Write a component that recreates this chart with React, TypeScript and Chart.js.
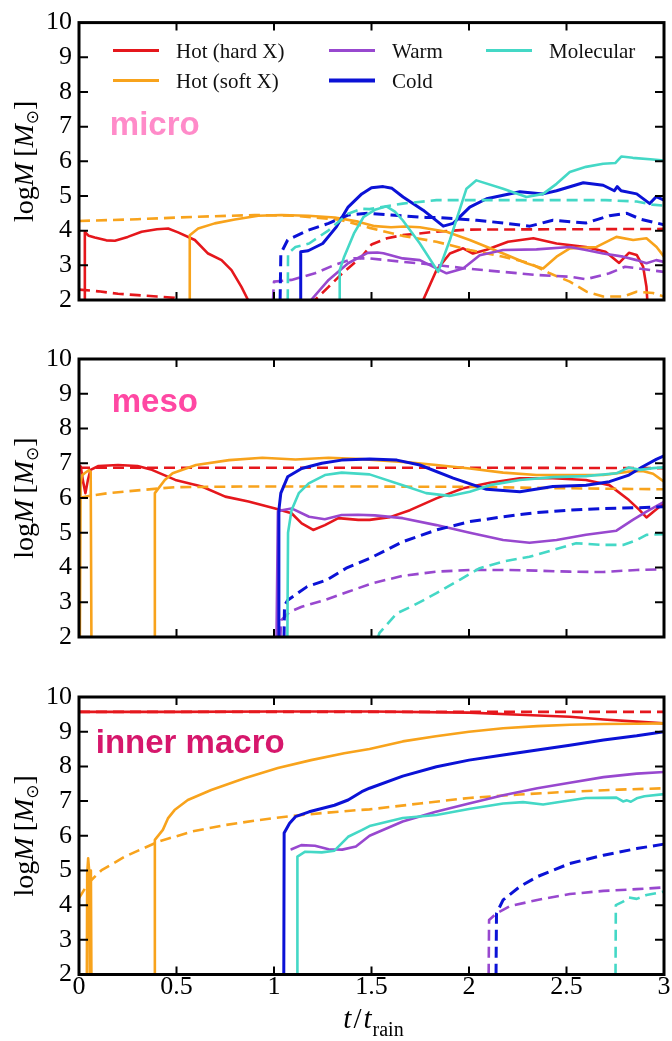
import React, { useEffect, useRef } from 'react';
import { Chart, registerables } from 'chart.js';

Chart.register(...registerables);

type Pt = [number, number | null];

// ---------- axes ----------
const xTickValues = [0, 0.5, 1, 1.5, 2, 2.5, 3];
const yTickValues = [2, 3, 4, 5, 6, 7, 8, 9, 10];

// ---------- categories ----------
const categories = ['Hot (hard X)', 'Hot (soft X)', 'Warm', 'Cold', 'Molecular'];
const catColors = ['#e5171c', '#f8a31c', '#9848cf', '#0b12d6', '#44d8c6'];

// ---------- panel 1: micro ----------
const microHardSolid: Pt[] = [[0.028, 1.5], [0.03, 3.96], [0.05, 3.85], [0.081, 3.8], [0.14, 3.72], [0.184, 3.71], [0.25, 3.82], [0.321, 3.97], [0.4, 4.04], [0.457, 4.06], [0.508, 3.95], [0.594, 3.73], [0.662, 3.34], [0.731, 3.15], [0.782, 2.86], [0.833, 2.38], [0.867, 2.0], [0.88, 1.5], [0.9, null], [1.76, 1.5], [1.765, 2.0], [1.833, 2.86], [1.902, 3.34], [1.97, 3.49], [2.02, 3.34], [2.09, 3.45], [2.2, 3.68], [2.33, 3.78], [2.449, 3.63], [2.6, 3.53], [2.7, 3.39], [2.77, 3.07], [2.82, 3.36], [2.86, 3.3], [2.893, 2.96], [2.91, 2.38], [2.92, 1.5]];
const microHardDashed: Pt[] = [[0, 2.3], [0.1, 2.25], [0.2, 2.18], [0.3, 2.14], [0.4, 2.1], [0.49, 2.06], [0.56, 1.9], [0.6, null], [1.2, 1.8], [1.21, 2.0], [1.28, 2.38], [1.35, 2.77], [1.45, 3.25], [1.5, 3.6], [1.58, 3.78], [1.66, 3.87], [1.833, 3.97], [2.0, 4.03], [2.5, 4.04], [3.0, 4.05]];
const microSoftSolid: Pt[] = [[0.565, 1.5], [0.568, 3.87], [0.611, 4.06], [0.696, 4.21], [0.799, 4.32], [0.919, 4.43], [1.038, 4.45], [1.175, 4.43], [1.312, 4.38], [1.431, 4.26], [1.517, 4.13], [1.6, 4.1], [1.67, 4.12], [1.748, 4.1], [1.885, 3.97], [2.004, 3.73], [2.175, 3.34], [2.295, 3.06], [2.38, 2.91], [2.449, 3.25], [2.517, 3.49], [2.654, 3.53], [2.756, 3.82], [2.842, 3.73], [2.91, 3.78], [2.962, 3.53], [3.0, 3.25]];
const microSoftDashed: Pt[] = [[0, 4.28], [0.3, 4.33], [0.6, 4.4], [0.9, 4.45], [1.1, 4.43], [1.342, 4.31], [1.491, 4.08], [1.66, 3.85], [1.833, 3.68], [2.004, 3.44], [2.175, 3.25], [2.312, 3.06], [2.414, 2.77], [2.517, 2.53], [2.603, 2.24], [2.688, 2.1], [2.791, 2.1], [2.859, 2.24], [2.944, 2.2], [3.0, 2.1]];
const microWarmSolid: Pt[] = [[1.18, 1.5], [1.19, 2.0], [1.28, 2.58], [1.38, 3.06], [1.48, 3.36], [1.53, 3.37], [1.561, 3.35], [1.66, 3.2], [1.748, 3.15], [1.833, 2.91], [1.885, 2.77], [1.97, 2.91], [2.055, 3.29], [2.175, 3.44], [2.346, 3.46], [2.517, 3.53], [2.6, 3.44], [2.688, 3.34], [2.79, 3.25], [2.86, 3.15], [2.91, 3.06], [2.96, 3.15], [3.0, 3.1]];
const microWarmDashed: Pt[] = [[0.99, 1.5], [1.0, 2.53], [1.09, 2.58], [1.21, 2.77], [1.31, 3.01], [1.41, 3.2], [1.49, 3.2], [1.66, 3.1], [1.833, 3.01], [2.0, 2.9], [2.175, 2.81], [2.35, 2.72], [2.517, 2.67], [2.6, 2.6], [2.72, 2.77], [2.8, 2.96], [2.88, 2.9], [3.0, 2.81]];
const microColdSolid: Pt[] = [[1.135, 1.5], [1.137, 3.39], [1.175, 3.42], [1.25, 3.63], [1.32, 4.11], [1.38, 4.68], [1.45, 5.06], [1.5, 5.24], [1.56, 5.27], [1.605, 5.22], [1.662, 4.97], [1.765, 4.59], [1.868, 4.13], [1.919, 4.21], [2.004, 4.68], [2.09, 4.92], [2.261, 5.12], [2.38, 5.06], [2.449, 5.15], [2.586, 5.38], [2.688, 5.31], [2.745, 5.15], [2.76, 5.27], [2.78, 5.15], [2.86, 5.06], [2.927, 4.78], [2.96, 4.98], [3.0, 4.88]];
const microColdDashed: Pt[] = [[1.03, 1.5], [1.035, 3.34], [1.07, 3.73], [1.175, 4.01], [1.28, 4.21], [1.38, 4.45], [1.48, 4.5], [1.6, 4.45], [1.78, 4.38], [1.833, 4.38], [2.04, 4.3], [2.175, 4.22], [2.312, 4.13], [2.43, 4.3], [2.6, 4.22], [2.72, 4.43], [2.81, 4.5], [2.88, 4.33], [3.0, 4.17]];
const microMolSolid: Pt[] = [[1.335, 1.5], [1.337, 2.86], [1.36, 3.25], [1.41, 3.92], [1.46, 4.4], [1.517, 4.6], [1.577, 4.7], [1.62, 4.55], [1.66, 4.3], [1.748, 3.63], [1.842, 2.81], [1.902, 3.73], [1.987, 5.21], [2.038, 5.45], [2.175, 5.21], [2.295, 4.97], [2.38, 5.06], [2.449, 5.35], [2.517, 5.69], [2.6, 5.84], [2.688, 5.93], [2.75, 5.95], [2.782, 6.14], [2.84, 6.1], [2.944, 6.05], [3.0, 6.02]];
const microMolDashed: Pt[] = [[1.07, 1.5], [1.072, 3.34], [1.11, 3.53], [1.18, 3.63], [1.28, 4.01], [1.38, 4.49], [1.45, 4.63], [1.49, 4.62], [1.66, 4.78], [1.833, 4.88], [2.0, 4.88], [2.4, 4.88], [2.7, 4.88], [2.86, 4.84], [2.94, 4.75], [3.0, 4.72]];

// ---------- panel 2: meso ----------
const mesoHardSolid: Pt[] = [[0, 6.95], [0.009, 6.9], [0.02, 6.5], [0.033, 6.14], [0.045, 6.5], [0.059, 6.81], [0.1, 6.92], [0.2, 6.95], [0.3, 6.92], [0.374, 6.81], [0.494, 6.52], [0.63, 6.33], [0.75, 6.04], [0.869, 5.9], [1.006, 5.7], [1.09, 5.56], [1.142, 5.27], [1.201, 5.08], [1.261, 5.22], [1.33, 5.42], [1.432, 5.37], [1.49, 5.37], [1.594, 5.45], [1.697, 5.65], [1.833, 5.99], [1.97, 6.28], [2.107, 6.44], [2.261, 6.57], [2.43, 6.57], [2.6, 6.52], [2.72, 6.37], [2.82, 5.94], [2.875, 5.65], [2.91, 5.44], [2.944, 5.6], [3.0, 5.85]];
const mesoHardDashed: Pt[] = [[0, 6.87], [1.0, 6.87], [2.0, 6.87], [3.0, 6.86]];
const mesoSoftSolid: Pt[] = [[0.004, 1.5], [0.008, 6.4], [0.015, 6.65], [0.03, 6.72], [0.05, 6.8], [0.06, 6.75], [0.064, 1.5], [0.2, null], [0.385, 1.5], [0.389, 6.14], [0.44, 6.52], [0.48, 6.71], [0.6, 6.95], [0.77, 7.09], [0.94, 7.16], [1.11, 7.11], [1.28, 7.16], [1.45, 7.12], [1.66, 7.04], [1.833, 6.95], [2.004, 6.85], [2.175, 6.73], [2.346, 6.66], [2.517, 6.66], [2.688, 6.66], [2.82, 6.76], [2.89, 6.78], [2.944, 6.7], [3.0, 6.47]];
const mesoSoftDashed: Pt[] = [[0, 6.0], [0.05, 6.06], [0.15, 6.14], [0.32, 6.23], [0.49, 6.31], [0.83, 6.33], [1.5, 6.33], [2.0, 6.32], [2.5, 6.28], [3.0, 6.25]];
const mesoWarmSolid: Pt[] = [[1.012, 1.5], [1.02, 5.61], [1.04, 5.65], [1.09, 5.7], [1.18, 5.46], [1.26, 5.39], [1.347, 5.51], [1.43, 5.52], [1.517, 5.5], [1.66, 5.42], [1.833, 5.22], [2.004, 5.0], [2.175, 4.79], [2.31, 4.71], [2.449, 4.79], [2.6, 4.94], [2.756, 5.06], [2.84, 5.37], [2.91, 5.61], [3.0, 5.89]];
const mesoWarmDashed: Pt[] = [[1.03, 1.5], [1.036, 2.48], [1.08, 2.72], [1.142, 2.87], [1.26, 3.06], [1.38, 3.3], [1.5, 3.54], [1.66, 3.76], [1.833, 3.88], [2.004, 3.93], [2.175, 3.93], [2.346, 3.91], [2.517, 3.88], [2.688, 3.87], [2.86, 3.93], [3.0, 3.95]];
const mesoColdSolid: Pt[] = [[1.022, 1.5], [1.025, 5.65], [1.035, 6.14], [1.07, 6.61], [1.142, 6.85], [1.245, 7.0], [1.347, 7.09], [1.49, 7.12], [1.63, 7.09], [1.748, 6.95], [1.919, 6.57], [2.09, 6.25], [2.261, 6.18], [2.43, 6.33], [2.6, 6.37], [2.72, 6.47], [2.82, 6.66], [2.89, 6.9], [2.96, 7.11], [3.0, 7.21]];
const mesoColdDashed: Pt[] = [[1.05, 1.5], [1.054, 2.91], [1.07, 3.06], [1.17, 3.45], [1.27, 3.64], [1.37, 3.98], [1.49, 4.26], [1.66, 4.74], [1.833, 5.08], [2.004, 5.32], [2.175, 5.46], [2.346, 5.58], [2.517, 5.65], [2.688, 5.7], [2.86, 5.72], [3.0, 5.75]];
const mesoMolSolid: Pt[] = [[1.068, 1.5], [1.072, 5.0], [1.09, 5.65], [1.127, 6.14], [1.178, 6.42], [1.261, 6.66], [1.347, 6.73], [1.49, 6.68], [1.66, 6.37], [1.78, 6.14], [1.9, 6.06], [2.004, 6.18], [2.107, 6.37], [2.261, 6.52], [2.43, 6.6], [2.6, 6.63], [2.756, 6.71], [2.82, 6.88], [2.876, 6.81], [2.944, 6.86], [3.0, 6.88]];
const mesoMolDashed: Pt[] = [[1.51, 1.5], [1.54, 2.11], [1.63, 2.68], [1.72, 2.92], [1.833, 3.26], [1.95, 3.64], [2.055, 3.98], [2.175, 4.17], [2.31, 4.31], [2.43, 4.5], [2.55, 4.7], [2.688, 4.65], [2.79, 4.65], [2.86, 4.79], [2.91, 4.94], [3.0, 4.96]];

// ---------- panel 3: inner macro ----------
const macroHardSolid: Pt[] = [[0, 9.57], [0.5, 9.57], [1.0, 9.58], [1.5, 9.58], [2.0, 9.55], [2.26, 9.49], [2.517, 9.43], [2.69, 9.35], [2.86, 9.29], [3.0, 9.24]];
const macroHardDashed: Pt[] = [[0, 9.57], [1.5, 9.57], [3.0, 9.57]];
const macroSoftSolid: Pt[] = [[0.04, 1.5], [0.042, 4.9], [0.047, 5.35], [0.052, 5.0], [0.056, 1.5], [0.058, 4.8], [0.061, 5.0], [0.064, 1.5], [0.2, null], [0.385, 1.5], [0.389, 5.88], [0.43, 6.17], [0.456, 6.5], [0.49, 6.74], [0.558, 7.03], [0.678, 7.32], [0.849, 7.66], [1.02, 7.95], [1.19, 8.18], [1.36, 8.38], [1.49, 8.5], [1.66, 8.72], [1.83, 8.87], [2.0, 9.0], [2.175, 9.1], [2.35, 9.16], [2.517, 9.2], [2.69, 9.22], [2.86, 9.23], [3.0, 9.24]];
const macroSoftDashed: Pt[] = [[0, 4.2], [0.047, 4.63], [0.116, 5.01], [0.236, 5.4], [0.407, 5.83], [0.578, 6.12], [0.75, 6.31], [0.92, 6.45], [1.09, 6.57], [1.26, 6.66], [1.43, 6.74], [1.49, 6.76], [1.748, 6.93], [2.0, 7.09], [2.26, 7.19], [2.517, 7.27], [2.77, 7.33], [3.0, 7.37]];
const macroWarmSolid: Pt[] = [[1.085, 5.6], [1.09, 5.61], [1.14, 5.73], [1.21, 5.71], [1.28, 5.61], [1.35, 5.6], [1.42, 5.69], [1.49, 6.0], [1.66, 6.41], [1.83, 6.69], [2.0, 6.93], [2.175, 7.17], [2.35, 7.37], [2.517, 7.53], [2.69, 7.69], [2.86, 7.79], [3.0, 7.84]];
const macroWarmDashed: Pt[] = [[2.1, 1.5], [2.103, 3.57], [2.14, 3.76], [2.21, 3.97], [2.35, 4.15], [2.517, 4.32], [2.69, 4.41], [2.86, 4.46], [3.0, 4.51]];
const macroColdSolid: Pt[] = [[1.05, 1.5], [1.052, 6.08], [1.08, 6.36], [1.11, 6.55], [1.18, 6.69], [1.31, 6.88], [1.38, 7.03], [1.45, 7.27], [1.49, 7.37], [1.66, 7.72], [1.833, 7.99], [2.0, 8.18], [2.175, 8.33], [2.35, 8.47], [2.517, 8.61], [2.69, 8.76], [2.86, 8.88], [3.0, 9.0]];
const macroColdDashed: Pt[] = [[2.138, 1.5], [2.141, 3.76], [2.175, 4.15], [2.26, 4.53], [2.35, 4.82], [2.517, 5.2], [2.69, 5.44], [2.86, 5.63], [3.0, 5.76]];
const macroMolSolid: Pt[] = [[1.118, 1.5], [1.12, 5.4], [1.16, 5.54], [1.245, 5.52], [1.31, 5.57], [1.38, 5.97], [1.45, 6.16], [1.49, 6.28], [1.66, 6.51], [1.833, 6.6], [2.0, 6.77], [2.175, 6.93], [2.277, 6.97], [2.38, 6.9], [2.48, 6.99], [2.6, 7.09], [2.756, 7.1], [2.79, 6.99], [2.81, 7.02], [2.83, 6.98], [2.86, 7.08], [2.9, 7.14], [3.0, 7.2]];
const macroMolDashed: Pt[] = [[2.751, 1.5], [2.753, 4.0], [2.79, 4.1], [2.82, 4.22], [2.86, 4.18], [2.91, 4.29], [3.0, 4.39]];

// ---------- panel labels ----------
const panelNames = ['micro', 'meso', 'inner macro'];
const panelNameColors = ['#ff8bc9', '#ff48a3', '#d6176c'];
const panelNameAt: [number, number][] = [[0.158, 6.75], [0.168, 8.47], [0.086, 8.38]];

type Series = { cat: number; dashed: boolean; data: Pt[] };
type PanelCfg = {
  idx: number; top: number; height: number; padTop: number; xAxisH: number;
  legend: boolean; xLabels: boolean; series: Series[];
};

const S = (cat: number, dashed: boolean, data: Pt[]): Series => ({ cat, dashed, data });

const panels: PanelCfg[] = [
  {
    idx: 0, top: 0, height: 330, padTop: 22, xAxisH: 30, legend: true, xLabels: false,
    series: [S(0, false, microHardSolid), S(0, true, microHardDashed), S(1, false, microSoftSolid), S(1, true, microSoftDashed),
      S(2, false, microWarmSolid), S(2, true, microWarmDashed), S(3, false, microColdSolid), S(3, true, microColdDashed),
      S(4, false, microMolSolid), S(4, true, microMolDashed)],
  },
  {
    idx: 1, top: 330, height: 335, padTop: 29, xAxisH: 28, legend: false, xLabels: false,
    series: [S(0, false, mesoHardSolid), S(0, true, mesoHardDashed), S(1, false, mesoSoftSolid), S(1, true, mesoSoftDashed),
      S(2, false, mesoWarmSolid), S(2, true, mesoWarmDashed), S(3, false, mesoColdSolid), S(3, true, mesoColdDashed),
      S(4, false, mesoMolSolid), S(4, true, mesoMolDashed)],
  },
  {
    idx: 2, top: 665, height: 376, padTop: 32, xAxisH: 66.5, legend: false, xLabels: true,
    series: [S(0, false, macroHardSolid), S(0, true, macroHardDashed), S(1, false, macroSoftSolid), S(1, true, macroSoftDashed),
      S(2, false, macroWarmSolid), S(2, true, macroWarmDashed), S(3, false, macroColdSolid), S(3, true, macroColdDashed),
      S(4, false, macroMolSolid), S(4, true, macroMolDashed)],
  },
];

const SERIF = '"Liberation Serif", "Times New Roman", serif';
const SANS = '"Liberation Sans", Arial, sans-serif';

type Seg = { t: string; f: string; dy?: number; gap?: number };

function drawSegs(ctx: CanvasRenderingContext2D, segs: Seg[], cx: number) {
  let w = 0;
  for (const s of segs) { ctx.font = s.f; w += ctx.measureText(s.t).width + (s.gap || 0); }
  let x = cx - w / 2;
  for (const s of segs) {
    ctx.font = s.f;
    ctx.fillText(s.t, x, s.dy || 0);
    x += ctx.measureText(s.t).width + (s.gap || 0);
  }
}

function makeDecor(cfg: PanelCfg) {
  return {
    id: 'decor' + cfg.idx,
    afterDraw(chart: any) {
      const { ctx, chartArea: a } = chart;
      const xs = chart.scales.x;
      const ys = chart.scales.y;
      ctx.save();
      // inward tick marks
      ctx.strokeStyle = '#000';
      ctx.lineWidth = 2;
      ctx.beginPath();
      for (const v of xTickValues.slice(1, -1)) {
        const px = xs.getPixelForValue(v);
        ctx.moveTo(px, a.bottom); ctx.lineTo(px, a.bottom - 8);
        ctx.moveTo(px, a.top); ctx.lineTo(px, a.top + 8);
      }
      for (const v of yTickValues.slice(1, -1)) {
        const py = ys.getPixelForValue(v);
        ctx.moveTo(a.left, py); ctx.lineTo(a.left + 9, py);
        ctx.moveTo(a.right, py); ctx.lineTo(a.right - 9, py);
      }
      ctx.stroke();
      // frame
      ctx.lineWidth = 3;
      ctx.strokeRect(a.left, a.top, a.right - a.left, a.bottom - a.top);

      // panel name
      ctx.font = 'bold 33px ' + SANS;
      ctx.fillStyle = panelNameColors[cfg.idx];
      ctx.textAlign = 'left';
      ctx.textBaseline = 'alphabetic';
      const at = panelNameAt[cfg.idx];
      ctx.fillText(panelNames[cfg.idx], xs.getPixelForValue(at[0]), ys.getPixelForValue(at[1]));

      // legend
      if (cfg.legend) {
        const cols = [34, 250, 407];
        const rows = [28, 58];
        const place = [[0, 0], [0, 1], [1, 0], [1, 1], [2, 0]];
        ctx.font = '21px ' + SERIF;
        categories.forEach((name, i) => {
          const [c, r] = place[i];
          const x0 = a.left + cols[c];
          const y0 = a.top + rows[r];
          ctx.strokeStyle = catColors[i];
          ctx.lineWidth = i === 3 ? 4 : 3;
          ctx.beginPath();
          ctx.moveTo(x0, y0); ctx.lineTo(x0 + 46, y0);
          ctx.stroke();
          ctx.fillStyle = '#111';
          ctx.fillText(name, x0 + 63, y0 + 7);
        });
      }

      // y axis title
      ctx.fillStyle = '#000';
      ctx.save();
      ctx.translate(33, (a.top + a.bottom) / 2);
      ctx.rotate(-Math.PI / 2);
      drawSegs(ctx, [
        { t: 'log', f: '28px ' + SERIF },
        { t: 'M', f: 'italic 28px ' + SERIF, gap: 6 },
        { t: '[', f: '28px ' + SERIF },
        { t: 'M', f: 'italic 28px ' + SERIF },
        { t: '⊙', f: '17px "DejaVu Sans", sans-serif', dy: 5 },
        { t: ']', f: '28px ' + SERIF },
      ], 0);
      ctx.restore();

      // x axis title
      if (cfg.xLabels) {
        ctx.save();
        ctx.translate(0, a.bottom + 53.5);
        drawSegs(ctx, [
          { t: 't', f: 'italic 29px ' + SERIF, gap: 2 },
          { t: '/', f: '29px ' + SERIF, gap: 2 },
          { t: 't', f: 'italic 29px ' + SERIF, gap: 1 },
          { t: 'rain', f: '20px ' + SERIF, dy: 8 },
        ], xs.getPixelForValue(1.5) + 2);
        ctx.restore();
      }
      ctx.restore();
    },
  };
}

function Panel({ cfg }: { cfg: PanelCfg }) {
  const ref = useRef<HTMLCanvasElement>(null);
  useEffect(() => {
    const canvas = ref.current;
    if (!canvas) return;
    const n = cfg.series.length;
    const datasets = cfg.series.map((s, i) => ({
      label: categories[s.cat] + (s.dashed ? ' (dashed)' : ''),
      data: s.data.map(([x, y]) => ({ x, y })),
      borderColor: catColors[s.cat],
      backgroundColor: catColors[s.cat],
      borderWidth: s.cat === 3 ? 3 : 2.6,
      borderDash: s.dashed ? [11, 6] : [],
      borderJoinStyle: 'round',
      pointRadius: 0,
      pointHoverRadius: 0,
      fill: false,
      tension: 0,
      spanGaps: false,
      order: n - i,
    }));
    const tickFont = { family: SERIF, size: 26 };
    const chart = new Chart(canvas, {
      type: 'line',
      data: { datasets } as any,
      options: {
        animation: false,
        responsive: false,
        devicePixelRatio: 1,
        layout: { padding: { top: cfg.padTop, right: 8, left: 0, bottom: 0 } },
        plugins: { legend: { display: false }, tooltip: { enabled: false } },
        scales: {
          x: {
            type: 'linear', min: 0, max: 3,
            ticks: {
              stepSize: 0.5, display: cfg.xLabels, font: tickFont, color: '#000',
              padding: -3, maxRotation: 0, autoSkip: false,
              callback: (v: any) => String(Number(v)),
            },
            grid: { display: false, drawTicks: false },
            border: { display: false },
            afterFit: (s: any) => { s.height = cfg.xAxisH; },
          },
          y: {
            type: 'linear', min: 2, max: 10,
            ticks: {
              stepSize: 1, font: tickFont, color: '#000', padding: 7, autoSkip: false,
              callback: (v: any) => String(Number(v)),
            },
            grid: { display: false, drawTicks: false },
            border: { display: false },
            afterFit: (s: any) => { s.width = 79; },
          },
        },
      } as any,
      plugins: [makeDecor(cfg)],
    });
    return () => chart.destroy();
  }, [cfg]);
  return (
    <canvas
      ref={ref}
      width={672}
      height={cfg.height}
      style={{ position: 'absolute', left: 0, top: cfg.top, width: 672, height: cfg.height, display: 'block' }}
    />
  );
}

export default function App() {
  return (
    <div style={{ position: 'absolute', left: 0, top: 0, width: 672, height: 1041, background: '#fff', overflow: 'hidden' }}>
      {panels.map((p) => <Panel key={p.idx} cfg={p} />)}
    </div>
  );
}
